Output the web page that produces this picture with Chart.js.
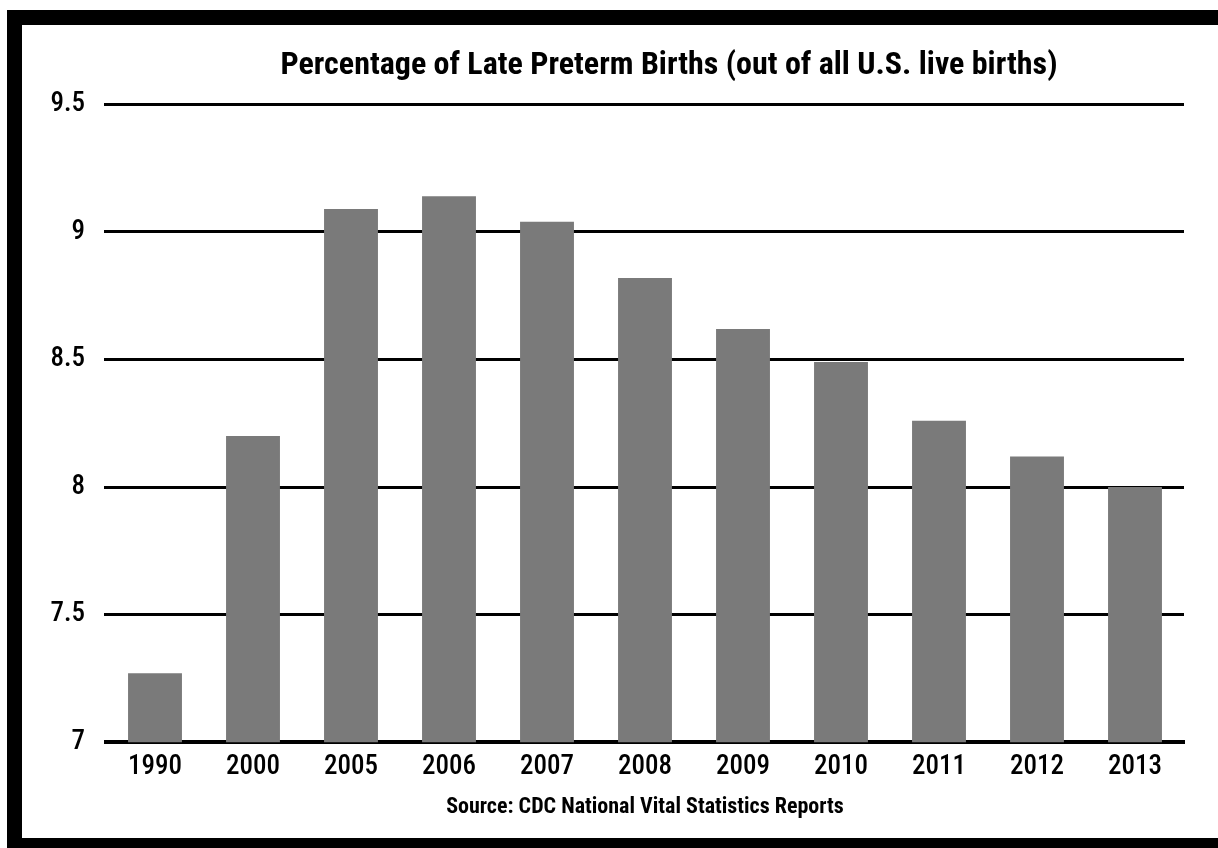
<!DOCTYPE html>
<html>
<head>
<meta charset="utf-8">
<title>Late Preterm Births</title>
<script src="https://cdn.jsdelivr.net/npm/chart.js@4"></script>
<style>
  html, body { margin: 0; padding: 0; background: #fff; overflow: hidden; }
  body { width: 1218px; height: 848px; position: relative; }
  .frame {
    position: absolute; left: 7px; top: 10px;
    width: 1220px; height: 813px;
    border: 15px solid #000;
  }
  #myChart { position: absolute; left: 22px; top: 25px; }
</style>
</head>
<body>
<div class="frame"></div>
<canvas id="myChart" width="1196" height="813"></canvas>
<script>
const years = ['1990', '2000', '2005', '2006', '2007', '2008', '2009', '2010', '2011', '2012', '2013'];
const latePreterm = [7.27, 8.2, 9.09, 9.14, 9.04, 8.82, 8.62, 8.49, 8.26, 8.12, 8.0];
const yTicks = [7, 7.5, 8, 8.5, 9, 9.5];
const titleText = 'Percentage of Late Preterm Births (out of all U.S. live births)';
const sourceText = 'Source: CDC National Vital Statistics Reports';

const FONT = "'Liberation Sans Narrow', 'Roboto Condensed', Roboto, sans-serif";

// title sits a bit right of the canvas centre in the original
const shiftTitle = {
  id: 'shiftTitle',
  afterLayout(chart) {
    if (chart.titleBlock) chart.titleBlock.left += 132;
  }
};

const renderChart = (data, labels) => {
  const ctx = document.getElementById('myChart');
  Chart.defaults.font.family = FONT;
  Chart.defaults.color = '#000';
  const chart = new Chart(ctx, {
    type: 'bar',
    data: {
      labels: labels,
      datasets: [
        {
          label: 'Late preterm births (%)',
          backgroundColor: '#7a7a7a',
          borderWidth: 0,
          barPercentage: 0.55,
          categoryPercentage: 1.0,
          data: data
        }
      ]
    },
    options: {
      responsive: false,
      animation: false,
      layout: { padding: { left: 0, right: 34, top: 0, bottom: 0 } },
      plugins: {
        legend: { display: false },
        tooltip: { enabled: false },
        title: {
          display: true,
          text: titleText,
          font: { size: 32, weight: 'bold', family: FONT },
          padding: { top: 22, bottom: 19 }
        }
      },
      scales: {
        x: {
          grid: { display: false, drawTicks: false },
          border: { display: true, color: '#000', width: 4 },
          ticks: { padding: 9, font: { size: 27, weight: '500' } },
          title: {
            display: true,
            text: sourceText,
            font: { size: 22, weight: 'bold', family: FONT },
            padding: { top: 2, bottom: 17 }
          }
        },
        y: {
          min: 7,
          max: 9.5,
          afterFit: (scale) => { scale.width = 84; },
          afterBuildTicks: (scale) => {
            scale.ticks = yTicks.map(v => ({ value: v }));
          },
          grid: { color: '#000', lineWidth: 3, drawTicks: true, tickLength: 2 },
          border: { display: false },
          ticks: {
            padding: 19,
            font: { size: 27, weight: '500' },
            callback: (v) => String(v)
          }
        }
      }
    },
    plugins: [shiftTitle]
  });
  return chart;
};

window.addEventListener('load', () => {
  renderChart(latePreterm, years);
});
</script>
</body>
</html>
